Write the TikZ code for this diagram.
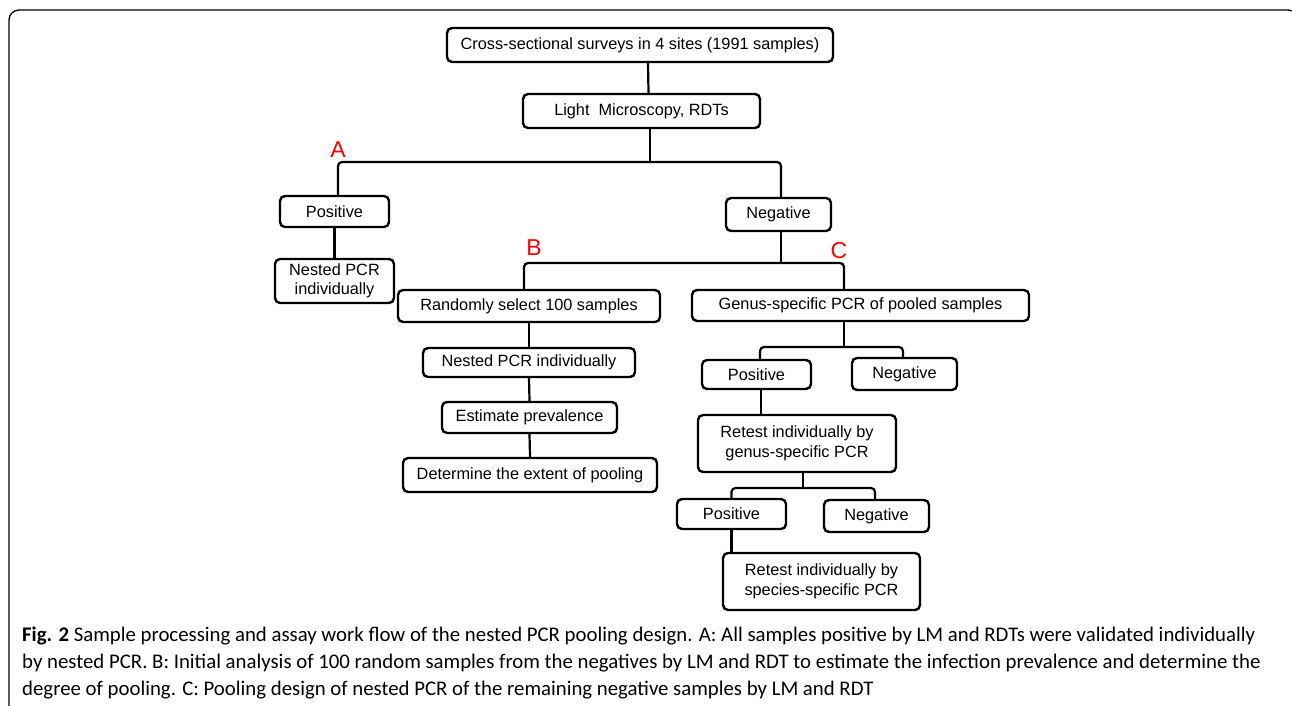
\documentclass[tikz,border=0pt]{standalone}
\usepackage{fontspec}
\setmainfont{Liberation Sans}
\newfontfamily\capfont{Carlito}
\usetikzlibrary{calc}
\definecolor{labelred}{HTML}{FF0000}
\definecolor{inkblack}{HTML}{000000}

\begin{document}
\begin{tikzpicture}[
    x=1pt, y=-1pt,
    every node/.style={align=center},
    box/.style={
        draw=inkblack, line width=2.4pt, fill=white, rounded corners=5pt,
        inner sep=2pt, font=\fontsize{16.3}{19.5}\selectfont
    },
    conn/.style={draw=inkblack, line width=2.2pt, rounded corners=4pt},
    letter/.style={font=\fontsize{23}{23}\selectfont, text=labelred, inner sep=0pt}
]
\useasboundingbox (0,0) rectangle (1292,706);

% outer frame
\begin{scope}
    \clip (0,0) rectangle (1292,706);
    \draw[line width=1.3pt, rounded corners=10pt] (9,740) rectangle (1298,10);
\end{scope}

% survey and first split
\node[box, minimum width=386, minimum height=34] (survey) at (640,45) {Cross-sectional surveys in 4 sites (1991 samples)};
\node[box, minimum width=237, minimum height=34] (micro) at (641.5,111) {Light\ \ Microscopy, RDTs};
\node[box, minimum width=109, minimum height=31] (posA) at (334.5,211.5) {Positive};
\node[box, minimum width=105, minimum height=33] (negA) at (778.5,214.5) {Negative};
\node[box, minimum width=119, minimum height=44] (nestA) at (334.5,281) {Nested PCR\\individually};

% branch B
\node[box, minimum width=262, minimum height=32] (randB) at (529,306) {Randomly select 100 samples};
\node[box, minimum width=212, minimum height=29] (nestB) at (529,362.5) {Nested PCR individually};
\node[box, minimum width=175, minimum height=31] (estB) at (529.5,417.5) {Estimate prevalence};
\node[box, minimum width=254, minimum height=34] (detB) at (530,475) {Determine the extent of pooling};

% branch C
\node[box, minimum width=337, minimum height=31] (poolC) at (860.5,305.5) {Genus-specific PCR of pooled samples};
\node[box, minimum width=109, minimum height=29] (posC) at (756.5,374.5) {Positive};
\node[box, minimum width=105, minimum height=32] (negC) at (904.5,374) {Negative};
\node[box, minimum width=198, minimum height=57] (genusC) at (797,443.5) {Retest individually by\\genus-specific PCR};
\node[box, minimum width=109, minimum height=30] (posD) at (731.5,514) {Positive};
\node[box, minimum width=105, minimum height=32] (negD) at (876.5,516) {Negative};
\node[box, minimum width=197, minimum height=57] (speciesC) at (821.5,581.5) {Retest individually by\\species-specific PCR};

% junctions
\coordinate (splitA) at (650,162);
\coordinate (splitB) at (781,263);
\coordinate (splitC) at (844,347);
\coordinate (splitD) at (803,488);

\draw[conn] ([xshift=8]survey.south) -- ([xshift=7]micro.north);
\draw[conn] ([xshift=8.5]micro.south) -- (splitA);
\draw[conn] ([xshift=3.5]posA.north) -- ([xshift=3.5]posA.north |- splitA) -- ([xshift=2.5]negA.north |- splitA) -- ([xshift=2.5]negA.north);
\draw[conn] (posA.south) -- (nestA.north);

\draw[conn] ([xshift=2.5]negA.south) -- (splitB);
\draw[conn] ([xshift=-5]randB.north) -- ([xshift=-5]randB.north |- splitB) -- (splitC |- splitB) -- (splitC |- poolC.north);
\draw[conn] (randB.south) -- (nestB.north);
\draw[conn] (nestB.south) -- (estB.north);
\draw[conn] (estB.south) -- (detB.north);

\draw[conn] (splitC |- poolC.south) -- (splitC);
\draw[conn] ([xshift=3.5]posC.north) -- ([xshift=3.5]posC.north |- splitC) -- ([xshift=-1.5]negC.north |- splitC) -- ([xshift=-1.5]negC.north);
\draw[conn] ([xshift=4.5]posC.south) -- ([xshift=4.5]posC.south |- genusC.north);
\draw[conn] (splitD |- genusC.south) -- (splitD);
\draw[conn] (posD.north) -- (posD.north |- splitD) -- ([xshift=-1.5]negD.north |- splitD) -- ([xshift=-1.5]negD.north);
\draw[conn] (posD.south) -- (posD.south |- speciesC.north);

% branch letters
\node[letter] (labA) at (338,150) {A};
\node[letter] (labB) at (534,248) {B};
\node[letter] (labC) at (839,251) {C};

% caption
\node[anchor=north west, align=left, inner sep=0pt, font=\capfont\fontsize{20.8}{27}\selectfont] (caption) at (22,627)
    {\textbf{Fig. 2} Sample processing and assay work flow of the nested PCR pooling design. A: All samples positive by LM and RDTs were validated individually\\
     by nested PCR. B: Initial analysis of 100 random samples from the negatives by LM and RDT to estimate the infection prevalence and determine the\\
     degree of pooling. C: Pooling design of nested PCR of the remaining negative samples by LM and RDT};

\end{tikzpicture}
\end{document}
